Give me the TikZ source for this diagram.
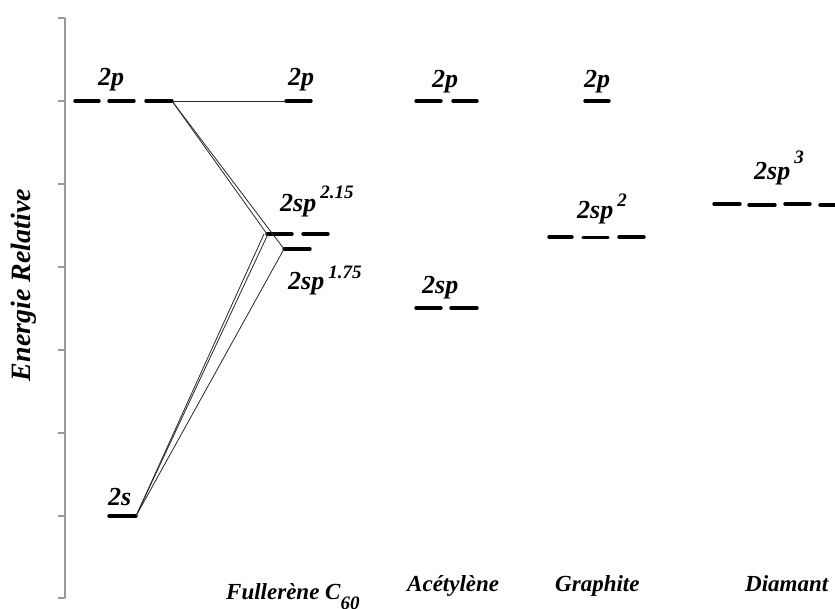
\documentclass[tikz,border=0pt]{standalone}
\usepackage{fontspec}
\setmainfont{Liberation Serif}
\tikzset{
  lvl/.style={line width=3.4pt, line cap=round, black},
  conn/.style={line width=0.8pt, black!85},
  axisline/.style={line width=1.2pt, black!40},
  orblbl/.style={anchor=base west, inner sep=0pt, font=\fontsize{26}{26}\selectfont\bfseries\itshape},
  molbl/.style={anchor=base west, inner sep=0pt, font=\fontsize{23}{23}\selectfont\bfseries\itshape},
}
\newcommand{\supx}[2]{\hspace{4pt}\raisebox{#1}{\fontsize{19}{19}\selectfont #2}}
\begin{document}
\begin{tikzpicture}[x=1pt,y=-1pt]
\useasboundingbox (0,0) rectangle (835,609);
\clip (0,0) rectangle (835,609);
% axis
\coordinate (axtop) at (65,18);
\coordinate (axbot) at (65,598);
\draw[axisline] (axtop) -- (axbot);
\foreach \yy in {18,101,184,267,350,433,516,598}
  \draw[axisline] (58,\yy) -- (65,\yy);
\node[rotate=90, inner sep=0pt, font=\fontsize{28}{28}\selectfont\bfseries\itshape] (ylab) at (24,285) {Energie Relative};

% atomic levels
\coordinate (pA1) at (75,101); \coordinate (pA2) at (99,101);
\coordinate (pB1) at (109,101); \coordinate (pB2) at (134,101);
\coordinate (pC1) at (146,101); \coordinate (pC2) at (172,101);
\draw[lvl] (pA1) -- (pA2); \draw[lvl] (pB1) -- (pB2); \draw[lvl] (pC1) -- (pC2);
\node[orblbl] (lp) at (98,86) {2p};
\coordinate (s1) at (109,516); \coordinate (s2) at (136,516);
\draw[lvl] (s1) -- (s2);
\node[orblbl] (ls) at (108,505) {2s};

% fullerene levels
\coordinate (fp1) at (286,101); \coordinate (fp2) at (311,101);
\draw[lvl] (fp1) -- (fp2);
\node[orblbl] (lfp) at (288,86) {2p};
\coordinate (h1a) at (267,234); \coordinate (h1b) at (292,234);
\coordinate (h2a) at (303,234); \coordinate (h2b) at (328,234);
\draw[lvl] (h1a) -- (h1b); \draw[lvl] (h2a) -- (h2b);
\node[orblbl] (lh1) at (280,212) {2sp\supx{13pt}{2.15}};
\coordinate (k1) at (284,249); \coordinate (k2) at (310,249);
\draw[lvl] (k1) -- (k2);
\node[orblbl] (lk) at (288,290) {2sp\supx{11pt}{1.75}};

% connectors
\coordinate (hs1) at (264,234); \coordinate (hs2) at (268,234);
\draw[conn] (pC2) -- (fp1);
\draw[conn] (pC2) -- (h1a);
\draw[conn] (pC2) -- (k1);
\draw[conn] (s2) -- (hs1);
\draw[conn] (s2) -- (hs2);
\draw[conn] (s2) -- (k1);

% acetylene
\coordinate (ap1) at (416,101); \coordinate (ap2) at (441,101);
\coordinate (ap3) at (453,101); \coordinate (ap4) at (477,101);
\draw[lvl] (ap1) -- (ap2); \draw[lvl] (ap3) -- (ap4);
\node[orblbl] (lap) at (432,88) {2p};
\coordinate (as1) at (416,308); \coordinate (as2) at (441,308);
\coordinate (as3) at (451,308); \coordinate (as4) at (477,308);
\draw[lvl] (as1) -- (as2); \draw[lvl] (as3) -- (as4);
\node[orblbl] (las) at (422,294) {2sp};

% graphite
\coordinate (gp1) at (585,101); \coordinate (gp2) at (609,101);
\draw[lvl] (gp1) -- (gp2);
\node[orblbl] (lgp) at (584,88) {2p};
\coordinate (g1) at (549,237); \coordinate (g2) at (572,237);
\coordinate (g3) at (583,237.5); \coordinate (g4) at (608,237.5);
\coordinate (g5) at (619,237); \coordinate (g6) at (644,237);
\draw[lvl] (g1) -- (g2); \draw[lvl] (g3) -- (g4); \draw[lvl] (g5) -- (g6);
\node[orblbl] (lg) at (577,219) {2sp\supx{12pt}{2}};

% diamond
\coordinate (d1) at (714,204); \coordinate (d2) at (740,204);
\coordinate (d3) at (749,205); \coordinate (d4) at (775,205);
\coordinate (d5) at (785,204); \coordinate (d6) at (810,204);
\coordinate (d7) at (820,205); \coordinate (d8) at (840,205);
\draw[lvl] (d1) -- (d2); \draw[lvl] (d3) -- (d4); \draw[lvl] (d5) -- (d6); \draw[lvl] (d7) -- (d8);
\node[orblbl] (ld) at (754,180) {2sp\supx{16pt}{3}};

% bottom labels
\node[molbl] (mf) at (226,599) {Fullerène C\raisebox{-10pt}{\fontsize{19}{19}\selectfont 60}};
\node[molbl] (ma) at (407,591) {Acétylène};
\node[molbl] (mg) at (555,591) {Graphite};
\node[molbl] (md) at (745,591) {Diamant};
\end{tikzpicture}
\end{document}
